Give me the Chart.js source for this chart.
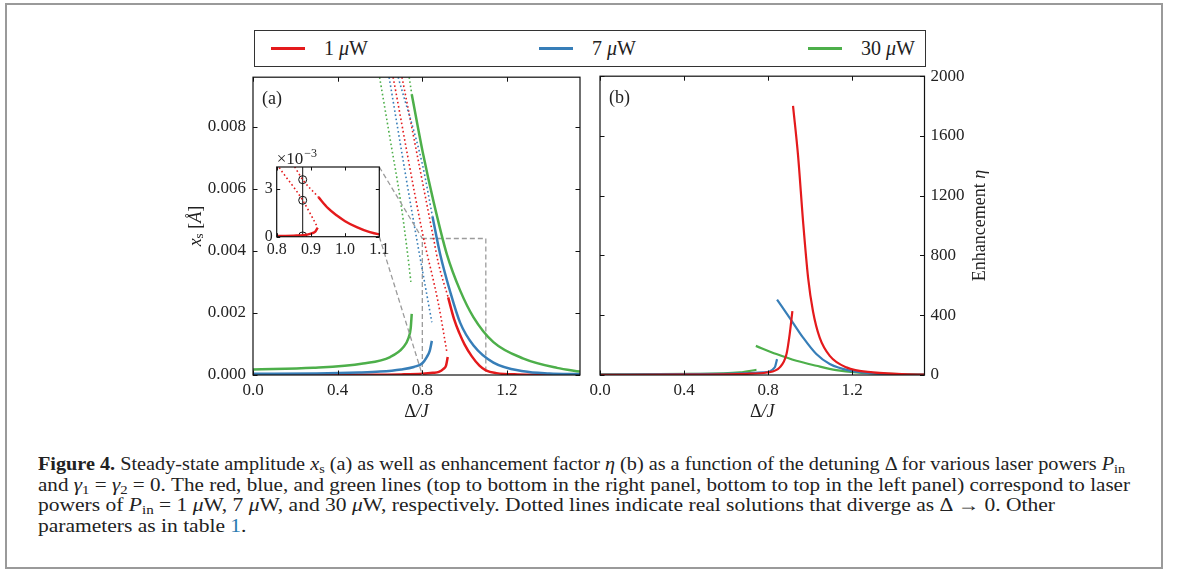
<!DOCTYPE html>
<html>
<head>
<meta charset="utf-8">
<script src="https://cdn.jsdelivr.net/npm/chart.js@4.4.1/dist/chart.umd.min.js"></script>
<style>
  html, body { margin: 0; padding: 0; background: #fff; }
  body { width: 1179px; height: 569px; position: relative; overflow: hidden;
         font-family: "Liberation Serif", serif; color: #222; }
  #frame { position: absolute; left: 5px; top: 3px; width: 1158px; height: 566px;
           border: 2px solid #9a9a9a; box-sizing: border-box; }
  canvas { position: absolute; }
  #legend { position: absolute; left: 254px; top: 30px; width: 672px; height: 37px;
            border: 1.5px solid #333; box-sizing: border-box; font-size: 20px; }
  .lg { position: absolute; top: 0; height: 100%; display: flex; align-items: center; white-space: nowrap; }
  .sw { display: inline-block; width: 34px; height: 3px; margin-right: 19px; }
  .cap { position: absolute; left: 38px; white-space: nowrap; font-size: 18px; line-height: 21px;
         transform-origin: 0 50%; }
  .cap sub { font-size: 0.7em; vertical-align: -0.25em; line-height: 0; }
  .cap b { font-weight: bold; }
</style>
</head>
<body>
<div id="frame"></div>

<div id="legend">
  <div class="lg" style="left:16px"><span class="sw" style="background:#e41a1c"></span><span>1&nbsp;<i>&mu;</i>W</span></div>
  <div class="lg" style="left:284px"><span class="sw" style="background:#377eb8"></span><span>7&nbsp;<i>&mu;</i>W</span></div>
  <div class="lg" style="left:553px"><span class="sw" style="background:#4daf4a"></span><span>30&nbsp;<i>&mu;</i>W</span></div>
</div>

<canvas id="chartA" width="450" height="372" style="left:150px;top:60px"></canvas>
<canvas id="chartB" width="420" height="372" style="left:580px;top:60px"></canvas>
<canvas id="inset" width="150" height="125" style="left:246px;top:140px"></canvas>

<div class="cap" style="top:454px"><b>Figure 4.</b> Steady-state amplitude <i>x</i><sub>s</sub> (a) as well as enhancement factor <i>&eta;</i> (b) as a function of the detuning &Delta; for various laser powers <i>P</i><sub>in</sub></div>
<div class="cap" style="top:474.5px">and <i>&gamma;</i><sub>1</sub> = <i>&gamma;</i><sub>2</sub> = 0. The red, blue, and green lines (top to bottom in the right panel, bottom to top in the left panel) correspond to laser</div>
<div class="cap" style="top:495px">powers of <i>P</i><sub>in</sub> = 1 <i>&mu;</i>W, 7 <i>&mu;</i>W, and 30 <i>&mu;</i>W, respectively. Dotted lines indicate real solutions that diverge as &Delta; &rarr; 0. Other</div>
<div class="cap" style="top:515.5px">parameters as in table <span style="color:#2a7ab0">1</span>.</div>

<script>
// ---- data: [detuning Δ/J, value] ----
// panel (a): steady-state amplitude x_s
const redLowA   = [[0,0.000005],[0.5,0.00001],[0.7,0.00002],[0.8,0.00004],[0.85,0.00007],[0.878,0.0001],[0.9,0.0002],[0.912,0.0003],[0.92,0.00058]];
const redUpA    = [[0.922,0.0025],[0.95,0.0018],[0.975,0.00135],[1.0,0.00098],[1.034,0.0006],[1.07,0.0003],[1.1,0.00015],[1.15,0.00006],[1.25,0.00002],[1.545,0.000005]];
const blueLowA  = [[0,0.00004],[0.3,0.00005],[0.5,0.00008],[0.6,0.00011],[0.7,0.00018],[0.76,0.00026],[0.8,0.00038],[0.821,0.00058],[0.835,0.00078],[0.845,0.0011]];
const blueUpA   = [[0.848,0.00511],[0.884,0.0039],[0.931,0.0027],[0.979,0.00168],[1.042,0.00095],[1.136,0.0004],[1.278,0.00012],[1.4,0.00005],[1.545,0.00003]];
const greenLowA = [[0,0.00018],[0.285,0.00023],[0.52,0.00037],[0.648,0.00058],[0.711,0.0009],[0.735,0.0012],[0.745,0.0015],[0.75,0.00197]];
const greenUpA  = [[0.75,0.00905],[0.805,0.00708],[0.853,0.00559],[0.916,0.00389],[0.979,0.00272],[1.042,0.00186],[1.136,0.00106],[1.278,0.00053],[1.436,0.00023],[1.545,0.00011]];
// dotted: real solutions diverging as Δ -> 0
const greenDotL = [[0.598,0.0096],[0.648,0.0076],[0.695,0.0057],[0.727,0.0041],[0.746,0.0030]];
const blueDotL  = [[0.643,0.0096],[0.755,0.0051],[0.845,0.0017]];
const redDotL   = [[0.662,0.0096],[0.8,0.0046],[0.876,0.0023],[0.917,0.0007]];
const blueDotR  = [[0.686,0.0096],[0.8,0.0068],[0.848,0.00511]];
const redDotR   = [[0.704,0.0096],[0.853,0.0044],[0.876,0.0036],[0.922,0.0025]];
const greenDotR = [[0.738,0.0096],[0.75,0.00905]];

// inset window and marked detuning
const insetRange = [0.8, 1.1];
const insetTop = 0.0044;
const cutD = 0.876;
const cutPoints = [0.00005, 0.0023, 0.0036];

// panel (b): enhancement factor η
const redLowB   = [[0,1],[0.41,3],[0.7,8],[0.793,17],[0.856,51],[0.888,140],[0.903,272],[0.916,427]];
const redUpB    = [[0.919,1801],[0.943,1469],[0.967,1025],[0.991,649],[1.014,427],[1.046,250],[1.094,128],[1.173,51],[1.30,17],[1.545,2]];
const blueLowB  = [[0,3],[0.586,7],[0.777,17],[0.832,51],[0.843,106]];
const blueUpB   = [[0.843,505],[0.903,383],[0.967,250],[1.03,140],[1.094,73],[1.189,29],[1.347,7],[1.545,2]];
const greenLowB = [[0,4],[0.43,7],[0.666,17],[0.745,35]];
const greenUpB  = [[0.742,195],[0.84,140],[0.935,95],[1.03,62],[1.125,33],[1.22,17],[1.379,7],[1.545,3]];

const xMax = 1.545;
const RED = '#e41a1c', BLUE = '#377eb8', GREEN = '#4daf4a', GREY = '#9b9b9b';
const F = '"Liberation Serif", serif';

function pts(arr) { return arr.map(p => ({x: p[0], y: p[1]})); }
function solid(arr, color, w) {
  return { data: pts(arr), borderColor: color, backgroundColor: color, borderWidth: w || 2.5,
           pointRadius: 0, fill: false, cubicInterpolationMode: 'monotone', borderCapStyle: 'butt' };
}
function dotted(arr, color) {
  return { data: pts(arr), borderColor: color, borderWidth: 1.6, borderDash: [1.6, 2.6],
           pointRadius: 0, fill: false, cubicInterpolationMode: 'monotone' };
}

// text with mixed fonts, centred on (x, y)
function richText(ctx, parts, x, y, rotate) {
  ctx.save();
  ctx.translate(x, y);
  if (rotate) ctx.rotate(-Math.PI / 2);
  let w = 0;
  parts.forEach(p => { ctx.font = p[1]; w += ctx.measureText(p[0]).width; });
  let cx = -w / 2;
  ctx.textBaseline = 'middle';
  ctx.fillStyle = '#222';
  parts.forEach(p => { ctx.font = p[1]; ctx.fillText(p[0], cx, p[2] || 0); cx += ctx.measureText(p[0]).width; });
  ctx.restore();
}

// box around the plot with inward ticks on all sides
function drawFrame(chart, yId, len) {
  const {ctx, chartArea: a} = chart;
  const xs = chart.scales.x, ys = chart.scales[yId];
  ctx.save();
  ctx.strokeStyle = '#111';
  ctx.lineWidth = 1.2;
  ctx.strokeRect(a.left, a.top, a.right - a.left, a.bottom - a.top);
  ctx.beginPath();
  xs.ticks.forEach(t => {
    const px = Math.round(xs.getPixelForValue(t.value)) + 0.5;
    ctx.moveTo(px, a.bottom); ctx.lineTo(px, a.bottom - len);
    ctx.moveTo(px, a.top); ctx.lineTo(px, a.top + len);
  });
  ys.ticks.forEach(t => {
    const py = Math.round(ys.getPixelForValue(t.value)) + 0.5;
    ctx.moveTo(a.left, py); ctx.lineTo(a.left + len, py);
    ctx.moveTo(a.right, py); ctx.lineTo(a.right - len, py);
  });
  ctx.lineWidth = 1;
  ctx.stroke();
  ctx.restore();
}

const tickFont = {family: F, size: 17};

// ---------- inset ----------
const insetChart = new Chart(document.getElementById('inset'), {
  type: 'line',
  data: { datasets: [
    solid(redLowA, RED, 2.4),
    solid(redUpA, RED, 2.4),
    dotted(redDotL, RED),
    dotted(redDotR, RED),
    { data: pts([[cutD, 0], [cutD, 1]]), borderColor: '#111', borderWidth: 1, pointRadius: 0, tension: 0 },
    { data: cutPoints.map(v => ({x: cutD, y: v})), showLine: false, pointStyle: 'circle', pointRadius: 4,
      pointBorderWidth: 1, pointBorderColor: '#111', pointBackgroundColor: 'rgba(0,0,0,0)' }
  ]},
  options: {
    responsive: false, animation: false, devicePixelRatio: 1,
    layout: { padding: { top: 27, right: 16.7, left: 0, bottom: 0 } },
    plugins: { legend: {display: false}, tooltip: {enabled: false} },
    scales: {
      x: { type: 'linear', min: insetRange[0], max: insetRange[1],
           grid: {display: false, drawTicks: false}, border: {display: false},
           ticks: { stepSize: 0.1, includeBounds: false, maxRotation: 0, autoSkip: false, padding: 3,
                    color: '#222', font: {family: F, size: 16}, callback: v => v.toFixed(1) },
           afterFit: s => { s.height = 28.3; } },
      y: { min: 0, max: insetTop,
           grid: {display: false, drawTicks: false}, border: {display: false},
           ticks: { stepSize: 0.003, includeBounds: false, padding: 4,
                    color: '#222', font: {family: F, size: 16}, callback: v => (v * 1000).toFixed(0) },
           afterFit: s => { s.width = 30.7; } }
    }
  },
  plugins: [{
    id: 'insetDecor',
    beforeDatasetsDraw(chart) {
      const {ctx, chartArea: a} = chart;
      ctx.save(); ctx.fillStyle = '#fff';
      ctx.fillRect(a.left, a.top, a.right - a.left, a.bottom - a.top);
      ctx.restore();
    },
    afterDatasetsDraw(chart) {
      drawFrame(chart, 'y', 3.5);
      const {ctx, chartArea: a} = chart;
      ctx.save();
      ctx.fillStyle = '#222';
      ctx.textBaseline = 'alphabetic';
      ctx.font = '17px ' + F;
      ctx.fillText('\u00d710', a.left, a.top - 3);
      const w = ctx.measureText('\u00d710').width;
      ctx.font = '12px ' + F;
      ctx.fillText('\u22123', a.left + w + 1, a.top - 10);
      ctx.restore();
    }
  }]
});

// ---------- panel (a) ----------
new Chart(document.getElementById('chartA'), {
  type: 'line',
  data: { datasets: [
    solid(greenUpA, GREEN), solid(blueUpA, BLUE), solid(redUpA, RED),
    solid(greenLowA, GREEN), solid(blueLowA, BLUE), solid(redLowA, RED),
    dotted(greenDotL, GREEN), dotted(blueDotL, BLUE), dotted(redDotL, RED),
    dotted(blueDotR, BLUE), dotted(redDotR, RED), dotted(greenDotR, GREEN),
    { data: pts([[insetRange[0], 0], [insetRange[0], insetTop], [insetRange[1], insetTop], [insetRange[1], 0]]),
      borderColor: GREY, borderWidth: 1.3, borderDash: [5, 3], pointRadius: 0, tension: 0 }
  ]},
  options: {
    responsive: false, animation: false, devicePixelRatio: 1,
    layout: { padding: { top: 14, right: 20, left: 0, bottom: 0 } },
    plugins: { legend: {display: false}, tooltip: {enabled: false} },
    scales: {
      x: { type: 'linear', min: 0, max: xMax,
           grid: {display: false, drawTicks: false}, border: {display: false},
           ticks: { stepSize: 0.4, includeBounds: false, maxRotation: 0, autoSkip: false, padding: 5,
                    color: '#222', font: tickFont, callback: v => v.toFixed(1) },
           afterFit: s => { s.height = 57; } },
      y: { min: 0, max: 0.0096,
           grid: {display: false, drawTicks: false}, border: {display: false},
           ticks: { stepSize: 0.002, includeBounds: false, padding: 7,
                    color: '#222', font: tickFont, callback: v => v.toFixed(3) },
           afterFit: s => { s.width = 103; } }
    }
  },
  plugins: [{
    id: 'decorA',
    afterDatasetsDraw(chart) {
      const {ctx, chartArea: a, scales} = chart;
      drawFrame(chart, 'y', 4.5);
      // connectors from inset corners to the zoomed window
      const ic = insetChart.chartArea;
      const dx = 246 - 150, dy = 140 - 60;
      const rx = scales.x.getPixelForValue(insetRange[0]);
      ctx.save();
      ctx.strokeStyle = GREY; ctx.lineWidth = 1.3; ctx.setLineDash([5, 3]);
      ctx.beginPath();
      ctx.moveTo(ic.right + dx, ic.top + dy); ctx.lineTo(rx, scales.y.getPixelForValue(insetTop));
      ctx.moveTo(ic.right + dx, ic.bottom + dy); ctx.lineTo(rx, scales.y.getPixelForValue(0));
      ctx.stroke();
      ctx.restore();
      ctx.save();
      ctx.font = '18px ' + F; ctx.fillStyle = '#222'; ctx.textBaseline = 'middle';
      ctx.fillText('(a)', a.left + 9, a.top + 22);
      ctx.restore();
      richText(ctx, [['\u0394', '18px ' + F], ['/', 'italic 18px ' + F], ['J', 'italic 18px ' + F]],
               (a.left + a.right) / 2, 352);
      richText(ctx, [['x', 'italic 18px ' + F], ['s', '13px ' + F, 4], [' [', '18px ' + F],
                     ['\u00c5', 'italic 18px ' + F], [']', '18px ' + F]],
               46, (a.top + a.bottom) / 2, true);
    }
  }]
});

// ---------- panel (b) ----------
new Chart(document.getElementById('chartB'), {
  type: 'line',
  data: { datasets: [
    solid(redUpB, RED, 2.2), solid(redLowB, RED, 2.2),
    solid(blueUpB, BLUE, 2.2), solid(blueLowB, BLUE, 2.2),
    solid(greenUpB, GREEN, 2.2), solid(greenLowB, GREEN, 2.2)
  ]},
  options: {
    responsive: false, animation: false, devicePixelRatio: 1,
    layout: { padding: { top: 14, right: 0, left: 20, bottom: 0 } },
    plugins: { legend: {display: false}, tooltip: {enabled: false} },
    scales: {
      x: { type: 'linear', min: 0, max: xMax,
           grid: {display: false, drawTicks: false}, border: {display: false},
           ticks: { stepSize: 0.4, includeBounds: false, maxRotation: 0, autoSkip: false, padding: 5,
                    color: '#222', font: tickFont, callback: v => v.toFixed(1) },
           afterFit: s => { s.height = 57; } },
      y: { position: 'right', min: 0, max: 2000,
           grid: {display: false, drawTicks: false}, border: {display: false},
           ticks: { stepSize: 400, padding: 6, color: '#222', font: tickFont, callback: v => String(v) },
           afterFit: s => { s.width = 75.5; } }
    }
  },
  plugins: [{
    id: 'decorB',
    afterDatasetsDraw(chart) {
      const {ctx, chartArea: a} = chart;
      drawFrame(chart, 'y', 4.5);
      ctx.save();
      ctx.font = '18px ' + F; ctx.fillStyle = '#222'; ctx.textBaseline = 'middle';
      ctx.fillText('(b)', a.left + 9, a.top + 22);
      ctx.restore();
      richText(ctx, [['\u0394', '18px ' + F], ['/', 'italic 18px ' + F], ['J', 'italic 18px ' + F]],
               (a.left + a.right) / 2, 352);
      richText(ctx, [['Enhancement ', '18px ' + F], ['\u03b7', 'italic 18px ' + F]],
               400, (a.top + a.bottom) / 2, true);
    }
  }]
});

// stretch caption lines to the measured line lengths
const capRight = [1125, 1130, 1055];
const caps = document.querySelectorAll('.cap');
let lastScale = 1;
caps.forEach((el, i) => {
  const w = el.getBoundingClientRect().width;
  const s = i < capRight.length ? (capRight[i] - 38) / w : lastScale;
  lastScale = s;
  el.style.transform = 'scaleX(' + s.toFixed(4) + ')';
});
</script>
</body>
</html>
